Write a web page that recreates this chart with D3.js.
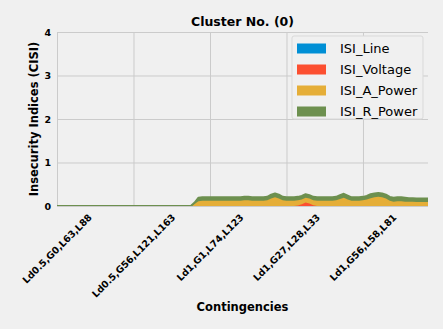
<!DOCTYPE html>
<html>
<head>
<meta charset="utf-8">
<script src="https://cdn.jsdelivr.net/npm/d3@7"></script>
<style>
  body { margin: 0; background: #f0f0f0; }
  svg text { font-family: "DejaVu Sans", sans-serif; fill: #000; }
</style>
</head>
<body>
<div id="chart"></div>
<script>
// series names (stack order, bottom to top)
const seriesNames = ["ISI_Line", "ISI_Voltage", "ISI_A_Power", "ISI_R_Power"];
const seriesColors = ["#008fd5", "#fc4f30", "#e5ae38", "#6d904f"];

// tick labels (only every 20th contingency is labelled)
const tickIdx = [0, 20, 40, 60, 80];
const tickLabels = ["Ld0.5,G0,L63,L88", "Ld0.5,G56,L121,L163", "Ld1,G1,L74,L123", "Ld1,G27,L28,L33", "Ld1,G56,L58,L81"];

// values, 98 contingencies
const isiLine = [
  0,0,0,0,0,0,0,0,0,0, 0,0,0,0,0,0,0,0,0,0, 0,0,0,0,0,0,0,0,0,0, 0,0,0,0,0,0,0,0,0,0,
  0,0,0,0,0,0,0,0,0,0, 0,0,0,0,0,0,0,0,0,0, 0,0,0,0,0,0,0,0,0,0, 0,0,0,0,0,0,0,0,0,0,
  0,0,0,0,0,0,0,0,0,0, 0,0,0,0,0,0,0,0
];
const isiVoltage = [
  0,0,0,0,0,0,0,0,0,0, 0,0,0,0,0,0,0,0,0,0, 0,0,0,0,0,0,0,0,0,0, 0,0,0,0,0,0,0,0,0,0,
  0,0,0,0,0,0,0,0,0,0, 0,0,0,0,0,0,0,0,0,0, 0,0,0,0.01,0.04,0.08,0.06,0.02,0,0, 0,0,0,0,0,0,0,0,0,0,
  0,0,0,0,0,0,0,0,0,0, 0,0,0,0,0,0,0,0
];
const isiAPower = [
  0,0,0,0,0,0,0,0,0,0, 0,0,0,0,0,0,0,0,0,0, 0,0,0,0,0,0,0,0,0,0, 0,0,0,0,0,0,0.05,0.11,0.12,0.12,
  0.12,0.12,0.12,0.12,0.12,0.12,0.12,0.12,0.12,0.13, 0.13,0.12,0.12,0.12,0.12,0.13,0.17,0.2,0.17,0.13,
  0.12,0.12,0.12,0.12,0.11,0.11,0.11,0.11,0.12,0.12, 0.12,0.12,0.12,0.13,0.16,0.19,0.15,0.12,0.12,0.12,
  0.13,0.15,0.18,0.2,0.21,0.2,0.17,0.12,0.1,0.11, 0.11,0.1,0.1,0.1,0.09,0.09,0.09,0.09
];
const isiRPower = [
  0,0,0,0,0,0,0,0,0,0, 0,0,0,0,0,0,0,0,0,0, 0,0,0,0,0,0,0,0,0,0, 0,0,0,0,0,0,0.03,0.08,0.08,0.08,
  0.08,0.08,0.08,0.08,0.08,0.08,0.08,0.08,0.08,0.08, 0.08,0.08,0.08,0.08,0.08,0.08,0.09,0.09,0.09,0.08,
  0.08,0.08,0.08,0.08,0.08,0.08,0.08,0.08,0.08,0.08, 0.08,0.08,0.08,0.08,0.09,0.09,0.09,0.08,0.08,0.08,
  0.08,0.08,0.09,0.09,0.09,0.09,0.09,0.09,0.09,0.09, 0.09,0.09,0.08,0.08,0.08,0.08,0.08,0.08
];

const W = 443, H = 329;
const margin = {top: 32, right: 15, bottom: 123, left: 57};
const width = W - margin.left - margin.right;
const height = H - margin.top - margin.bottom;

const rows = isiLine.map((v, i) => ({
  idx: i,
  ISI_Line: v,
  ISI_Voltage: isiVoltage[i],
  ISI_A_Power: isiAPower[i],
  ISI_R_Power: isiRPower[i]
}));

const svg = d3.select('#chart').append('svg')
  .attr('width', W)
  .attr('height', H);

svg.append('rect').attr('width', W).attr('height', H).attr('fill', '#f0f0f0');

svg.append('defs').append('clipPath').attr('id', 'plotclip')
  .append('rect').attr('x', 0).attr('y', -5).attr('width', width + 2).attr('height', height + 5);

const g = svg.append('g')
  .attr('transform', `translate(${margin.left}, ${margin.top})`);

const x = d3.scaleLinear().domain([0, rows.length - 1]).range([0, width]);
const y = d3.scaleLinear().domain([0, 4]).range([height, 0]);

// grid
g.append('g')
  .call(d3.axisLeft(y).ticks(4).tickSize(-width).tickFormat(''))
  .call(a => a.select('.domain').remove())
  .selectAll('line').attr('stroke', '#cbcbcb').attr('stroke-width', 1);
g.append('g')
  .attr('transform', `translate(0, ${height})`)
  .call(d3.axisBottom(x).tickValues(tickIdx).tickSize(-height).tickFormat(''))
  .call(a => a.select('.domain').remove())
  .selectAll('line').attr('stroke', '#cbcbcb').attr('stroke-width', 1);

// stacked areas, each fill followed by its top line
const stack = d3.stack().keys(seriesNames);
const layers = stack(rows);

const area = d3.area()
  .x(d => x(d.data.idx))
  .y0(d => y(d[0]))
  .y1(d => y(d[1]));
const topLine = d3.line()
  .x(d => x(d.data.idx))
  .y(d => y(d[1]));

const plot = g.append('g').attr('clip-path', 'url(#plotclip)');
layers.forEach((layer, i) => {
  plot.append('path')
    .datum(layer)
    .attr('d', area)
    .attr('fill', seriesColors[i]);
  plot.append('path')
    .datum(layer)
    .attr('d', topLine)
    .attr('fill', 'none')
    .attr('stroke', seriesColors[i])
    .attr('stroke-width', 2)
    .attr('stroke-linejoin', 'round');
});

// y tick labels
g.append('g')
  .call(d3.axisLeft(y).ticks(4).tickSize(0).tickPadding(6).tickFormat(d3.format('d')))
  .call(a => a.select('.domain').remove())
  .selectAll('text')
  .style('font-size', '9.5px')
  .style('font-weight', 'bold')
  .style('font-family', '"DejaVu Sans", sans-serif');

// x tick labels, rotated 45 and centred on the tick like matplotlib
const xl = g.append('g');
tickIdx.forEach((t, i) => {
  const txt = xl.append('text')
    .attr('text-anchor', 'middle')
    .attr('dominant-baseline', 'central')
    .style('font-size', '9.5px')
    .style('font-weight', 'bold')
    .text(tickLabels[i]);
  const L = txt.node().getComputedTextLength();
  const boxH = (L + 10) * Math.SQRT1_2;
  txt.attr('transform', `translate(${x(t)}, ${height + 6 + boxH / 2}) rotate(-45)`);
});

// title
svg.append('text')
  .attr('x', margin.left + width / 2)
  .attr('y', 26)
  .attr('text-anchor', 'middle')
  .style('font-size', '12.5px')
  .style('font-weight', 'bold')
  .text('Cluster No. (0)');

// axis labels
svg.append('text')
  .attr('transform', `translate(38, ${margin.top + height / 2}) rotate(-90)`)
  .attr('text-anchor', 'middle')
  .style('font-size', '11.5px')
  .style('font-weight', 'bold')
  .text('Insecurity Indices (CISI)');

svg.append('text')
  .attr('x', margin.left + width / 2)
  .attr('y', 311)
  .attr('text-anchor', 'middle')
  .style('font-size', '11.5px')
  .style('font-weight', 'bold')
  .text('Contingencies');

// legend
const legend = svg.append('g').attr('transform', 'translate(292, 36)');
legend.append('rect')
  .attr('width', 131).attr('height', 83)
  .attr('rx', 2)
  .attr('fill', '#f0f0f0')
  .attr('stroke', '#d9d9d9');
seriesNames.forEach((name, i) => {
  const row = legend.append('g').attr('transform', `translate(5, ${12.5 + i * 21})`);
  row.append('rect')
    .attr('x', 0).attr('y', -5)
    .attr('width', 29).attr('height', 10)
    .attr('fill', seriesColors[i]);
  row.append('text')
    .attr('x', 43).attr('y', 0)
    .attr('dominant-baseline', 'central')
    .style('font-size', '13px')
    .text(name);
});
</script>
</body>
</html>
